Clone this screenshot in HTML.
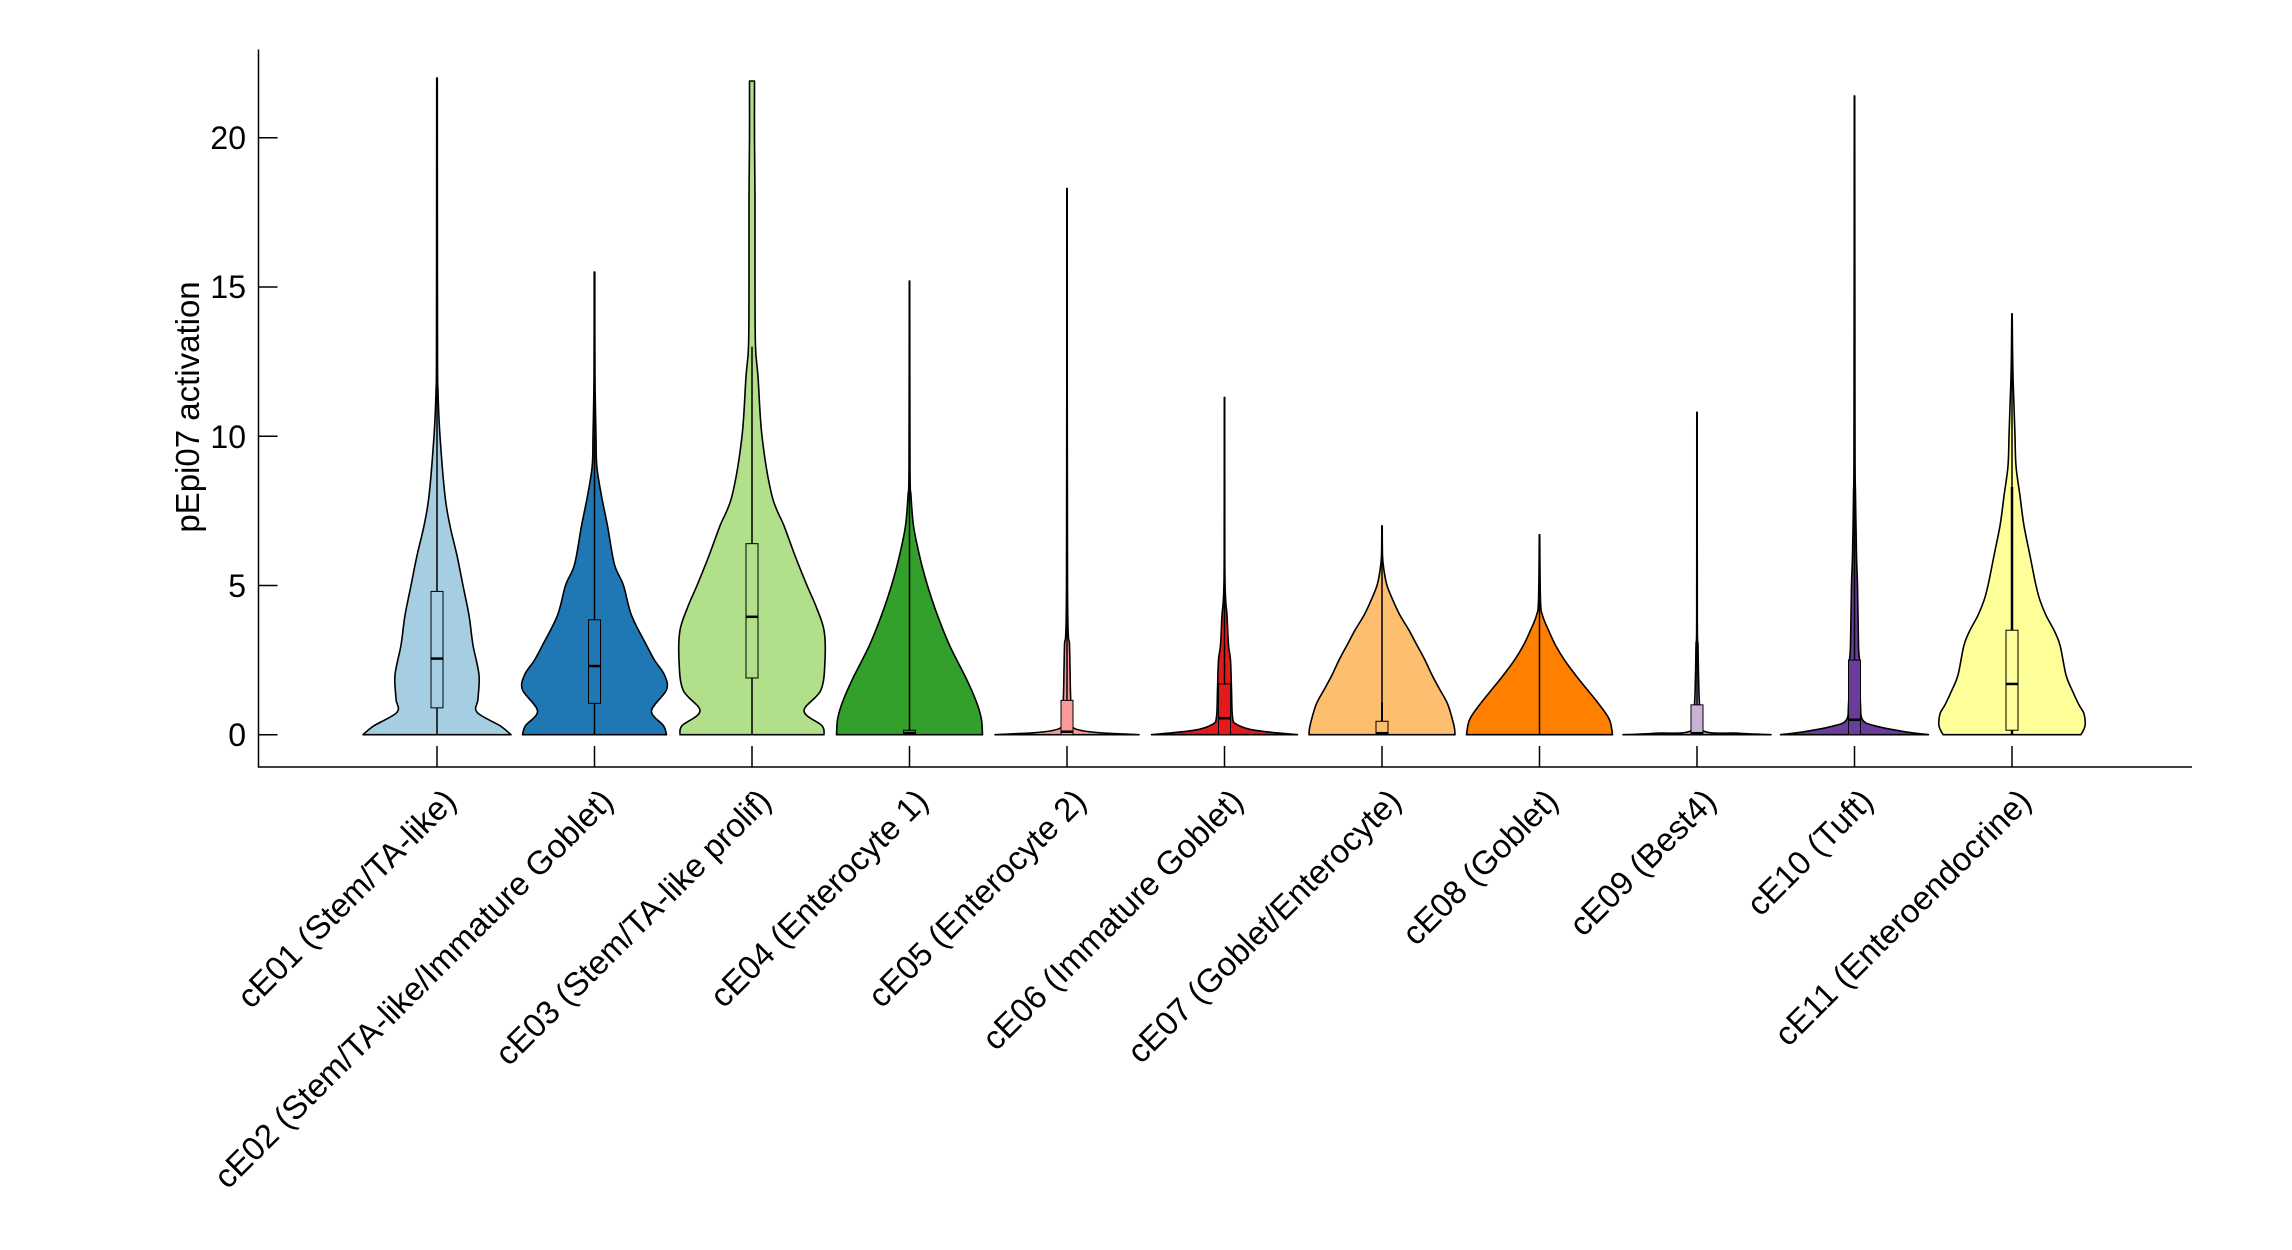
<!DOCTYPE html>
<html><head><meta charset="utf-8"><style>
html,body{margin:0;padding:0;background:#fff;}
svg{display:block;font-family:"Liberation Sans",Arial,sans-serif;}
</style></head><body>
<svg id="s" width="2292" height="1250" viewBox="0 0 2292 1250" xmlns="http://www.w3.org/2000/svg">
<g id="v"></g>
<g stroke="#000" stroke-width="1.5" fill="none">
<path d="M258.5 49.5 V767 H2192"/>
<path d="M258.5 734.7 h19 M258.5 585.5 h19 M258.5 436.2 h19 M258.5 287 h19 M258.5 137.8 h19"/>
<path d="M437 767 v-21 M594.5 767 v-21 M752 767 v-21 M909.5 767 v-21 M1067 767 v-21 M1224.5 767 v-21 M1382 767 v-21 M1539.5 767 v-21 M1697 767 v-21 M1854.5 767 v-21 M2012 767 v-21"/>
</g>
<g font-size="32" text-anchor="end" fill="#000">
<text x="246" y="746">0</text>
<text x="246" y="597">5</text>
<text x="246" y="448">10</text>
<text x="246" y="298">15</text>
<text x="246" y="149">20</text>
</g>
<text transform="translate(199,407) rotate(-90)" font-size="33" text-anchor="middle">pEpi07 activation</text>
<g font-size="33" text-anchor="end">
<text transform="translate(458,803) rotate(-45)">cE01 (Stem/TA-like)</text>
<text transform="translate(615,803) rotate(-45)">cE02 (Stem/TA-like/Immature Goblet)</text>
<text transform="translate(773,803) rotate(-45)">cE03 (Stem/TA-like prolif)</text>
<text transform="translate(930,803) rotate(-45)">cE04 (Enterocyte 1)</text>
<text transform="translate(1088,803) rotate(-45)">cE05 (Enterocyte 2)</text>
<text transform="translate(1245,803) rotate(-45)">cE06 (Immature Goblet)</text>
<text transform="translate(1403,803) rotate(-45)">cE07 (Goblet/Enterocyte)</text>
<text transform="translate(1560,803) rotate(-45)">cE08 (Goblet)</text>
<text transform="translate(1718,803) rotate(-45)">cE09 (Best4)</text>
<text transform="translate(1875,803) rotate(-45)">cE10 (Tuft)</text>
<text transform="translate(2033,803) rotate(-45)">cE11 (Enteroendocrine)</text>
</g>
</svg>
<script>
(function(){
var Y=function(v){return 734.7-29.85*v;};
var D=[
{c:'#a6cee3',p:[[0,74],[0.3,63],[0.75,40],[1.2,41],[2,42],[3,36],[4,32],[5,26],[6,20],[7,13],[8,8],[10,3],[11.5,1],[13,0.5],[22,0.3]],w:22,b:[0.9,4.8],m:2.55},
{c:'#1f78b4',p:[[0,72],[0.3,69],[0.8,57],[1.5,72],[2,70],[2.5,60],[3,52],[4,37],[5,29],[5.7,20],[7,13],[8,7],[9,2.3],[10,1.5],[12,0.5],[15.5,0.3]],w:15.5,b:[1.05,3.85],m:2.3},
{c:'#b2df8a',p:[[0,72],[0.3,70],[0.8,52],[1.5,69],[2.5,73],[3.5,72],[4.3,64],[5,55],[6,43],[7,32],[8,20],[10,10],[12,6],[13,3.5],[15,3],[18,3],[20,2.5],[21.9,2.5]],w:13,b:[1.9,6.4],m:3.95},
{c:'#33a02c',p:[[0,73],[0.5,72],[1,68],[1.5,62],[2,55],[3,40],[4,28],[5,18],[6,10],[7,4],[8,1.5],[9,0.5],[15.2,0.2]],w:15.2,b:[0,0.15],m:0.05},
{c:'#fb9a99',p:[[0,72],[0.2,8],[1,4],[2.2,3],[3,2.5],[5,0.5],[18.3,0.2]],w:18.3,b:[0,1.15],m:0.1},
{c:'#e31a1c',p:[[0,73],[0.15,30],[0.35,12],[0.6,8],[1.5,7],[2.5,6],[3,4],[4,2.5],[4.6,1],[6,0.3],[11.3,0.2]],w:11.3,b:[0,1.7],m:0.55},
{c:'#fdbf6f',p:[[0,73],[0.3,72],[1,66],[1.5,58],[2,50],[2.5,43],[3,35],[3.5,27],[4,18],[4.5,11],[5,5],[5.5,2],[6,0.5],[7,0.2]],w:7,b:[0,0.45],m:0.05,cap:1.08},
{c:'#ff7f00',p:[[0,73],[0.5,70],[1,60],[1.5,48],[2,36],[2.5,25],[3,16],[3.5,9],[4,3],[4.5,1],[6.7,0.2]],w:6.7,b:null,m:0},
{c:'#cab2d6',p:[[0,74],[0.05,40],[0.15,5],[1,2.5],[2,1.5],[3,1],[4,0.3],[10.8,0.2]],w:10.8,b:[0,1.0],m:0.05},
{c:'#6a3d9a',p:[[0,74],[0.1,50],[0.3,20],[0.5,8],[1,6],[2,5],[2.5,5],[3,4],[5,3],[6,2],[8,1],[10,0.5],[21.4,0.2]],w:21.4,b:[0,2.5],m:0.5},
{c:'#ffff99',p:[[0,69],[0.3,73],[0.7,72],[1,67],[1.5,60],[2,54],[3,48],[3.5,42],[4,34],[4.5,28],[5,24],[6,18],[7,12],[8,8],[9,4],[10,3],[11,2],[12,1],[13,0.5],[14.1,0.2]],w:14.1,b:[0.15,3.5],m:1.7,thick:8.3}
];
function cr(pts){var s='M'+pts[0][0].toFixed(1)+' '+pts[0][1].toFixed(1);
for(var i=0;i<pts.length-1;i++){var p0=pts[i-1]||pts[i],p1=pts[i],p2=pts[i+1],p3=pts[i+2]||p2;
var c1x=p1[0]+(p2[0]-p0[0])/6,c1y=p1[1]+(p2[1]-p0[1])/6,c2x=p2[0]-(p3[0]-p1[0])/6,c2y=p2[1]-(p3[1]-p1[1])/6;
s+=' C'+c1x.toFixed(1)+' '+c1y.toFixed(1)+' '+c2x.toFixed(1)+' '+c2y.toFixed(1)+' '+p2[0].toFixed(1)+' '+p2[1].toFixed(1);}return s;}
var g=document.getElementById('v'),h='';
D.forEach(function(d,i){var x=437+157.5*i;
var R=d.p.map(function(q){return [x+q[1],Y(q[0])];});
var L=d.p.slice().reverse().map(function(q){return [x-q[1],Y(q[0])];});
var path=cr(R)+' L'+L[0][0].toFixed(1)+' '+L[0][1].toFixed(1)+' '+cr(L).slice(1).replace(/^[^C]*/,'')+' Z';
h+='<path d="'+path+'" fill="'+d.c+'" stroke="#000" stroke-width="1.6" stroke-linejoin="round"/>';
h+='<line x1="'+x+'" y1="'+Y(0)+'" x2="'+x+'" y2="'+Y(d.w)+'" stroke="#000" stroke-width="1.5"/>';
if(d.thick)h+='<line x1="'+x+'" y1="'+Y(0)+'" x2="'+x+'" y2="'+Y(d.thick)+'" stroke="#000" stroke-width="2.5"/>';
if(d.cap)h+='<line x1="'+x+'" y1="'+Y(0)+'" x2="'+x+'" y2="'+Y(d.cap)+'" stroke="#000" stroke-width="2"/>';
if(d.b){h+='<rect x="'+(x-6)+'" y="'+Y(d.b[1])+'" width="12" height="'+(Y(d.b[0])-Y(d.b[1]))+'" fill="'+d.c+'" stroke="#000" stroke-width="1"/>';
h+='<line x1="'+(x-6)+'" y1="'+Y(d.m)+'" x2="'+(x+6)+'" y2="'+Y(d.m)+'" stroke="#000" stroke-width="2.5"/>';}
});
g.innerHTML=h;
})();
</script>
</body></html>
